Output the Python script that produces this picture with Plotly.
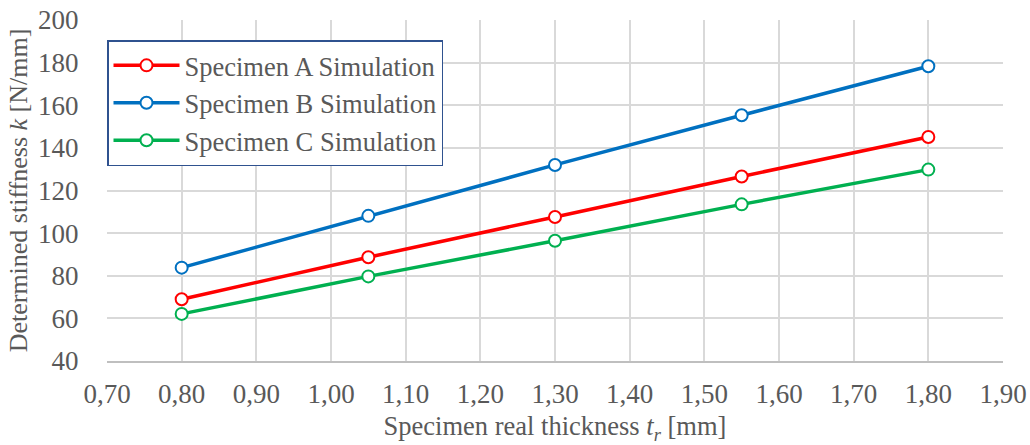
import plotly.graph_objects as go

thickness = [0.80, 1.05, 1.30, 1.55, 1.80]
spec_a = [69.0, 88.7, 107.6, 126.6, 145.1]
spec_b = [83.8, 108.1, 132.0, 155.3, 178.3]
spec_c = [62.1, 79.7, 96.4, 113.5, 129.8]
series_names = ["Specimen A Simulation", "Specimen B Simulation", "Specimen C Simulation"]
colors = ["#FF0000", "#0070C0", "#00B050"]

FONT = "Liberation Serif, serif"
TXT = "#595959"

fig = go.Figure()
for name, ys, col in zip(series_names, [spec_a, spec_b, spec_c], colors):
    fig.add_trace(go.Scatter(
        x=thickness, y=ys, name=name, mode="lines+markers",
        line=dict(color=col, width=3.5),
        marker=dict(symbol="circle", size=12, color="white",
                    line=dict(color=col, width=2)),
    ))

fig.update_layout(
    width=1030, height=445,
    margin=dict(l=107, r=27, t=20, b=84),
    paper_bgcolor="white", plot_bgcolor="white",
    separators=", ",
    font=dict(family=FONT, size=26, color=TXT),
    showlegend=True,
    legend=dict(
        x=0.0, y=0.941, xanchor="left", yanchor="top",
        bgcolor="white", bordercolor="#2F528F", borderwidth=1.5,
        font=dict(family=FONT, size=26.5, color=TXT),
        tracegroupgap=0, itemwidth=66,
    ),
)
fig.update_xaxes(
    range=[0.70, 1.90], tick0=0.70, dtick=0.10, tickformat=".2f",
    showgrid=True, gridcolor="#D9D9D9", gridwidth=1.5,
    zeroline=False, showline=True, linecolor="#BFBFBF", linewidth=2,
    ticks="outside", ticklen=8, tickcolor="rgba(0,0,0,0)", automargin=False,
    tickfont=dict(family=FONT, size=27, color=TXT),
    title=dict(text="Specimen real thickness <i>t<sub>r</sub></i> [mm]",
               font=dict(family=FONT, size=26.5, color=TXT), standoff=23),
)
fig.update_yaxes(
    range=[40, 200], dtick=20,
    showgrid=True, gridcolor="#D9D9D9", gridwidth=1.5,
    zeroline=False, showline=False,
    ticks="outside", ticklen=22, tickcolor="rgba(0,0,0,0)", automargin=False,
    tickfont=dict(family=FONT, size=27, color=TXT),
    title=dict(text="Determined stiffness <i>k</i> [N/mm]",
               font=dict(family=FONT, size=26, color=TXT), standoff=2),
)

fig.write_html("out.html", config={"displayModeBar": False},
               post_script="document.body.style.margin='0';")
